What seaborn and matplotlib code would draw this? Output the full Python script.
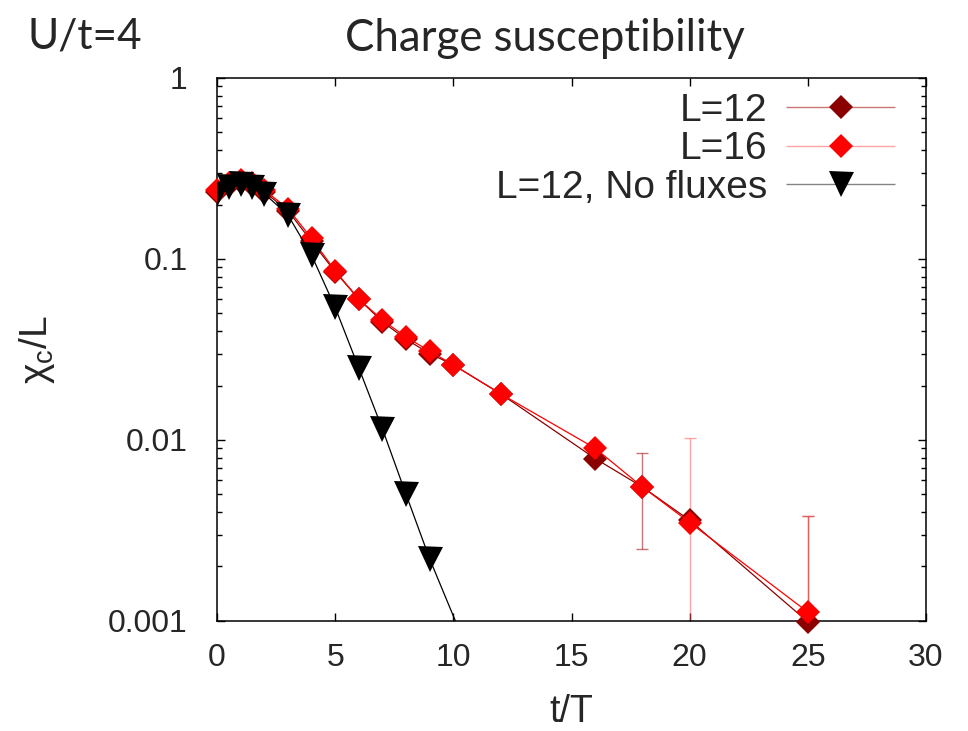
import numpy as np
import pandas as pd
import matplotlib
matplotlib.use("Agg")
import matplotlib.pyplot as plt
import seaborn as sns
from matplotlib.legend_handler import HandlerErrorbar
from matplotlib.ticker import FixedLocator, FixedFormatter, LogLocator, NullFormatter

# ---- data ----
t_l12 = [0, 0.5, 1, 1.5, 2, 3, 4, 5, 6, 7, 8, 9, 10, 12, 16, 18, 20, 25]
chi_l12 = [0.235, 0.255, 0.265, 0.255, 0.235, 0.185, 0.125, 0.085, 0.060, 0.045,
           0.036, 0.030, 0.026, 0.018, 0.0079, 0.0055, 0.0036, 0.00099]
err_l12 = [0, 0, 0, 0, 0, 0, 0, 0, 0, 0, 0, 0, 0, 0, 0, 0.003, 0, 0.0028]

t_l16 = [0, 0.5, 1, 1.5, 2, 3, 4, 5, 6, 7, 8, 9, 10, 12, 16, 18, 20, 25]
chi_l16 = [0.240, 0.262, 0.272, 0.262, 0.240, 0.190, 0.130, 0.086, 0.060, 0.046,
           0.037, 0.031, 0.026, 0.018, 0.0090, 0.0055, 0.0035, 0.00112]
err_l16 = [0, 0, 0, 0, 0, 0, 0, 0, 0, 0, 0, 0, 0, 0, 0, 0, 0.0067, 0.0027]

t_nf = [0, 0.5, 1, 1.5, 2, 3, 4, 5, 6, 7, 8, 9, 12]
chi_nf = [0.228, 0.250, 0.258, 0.250, 0.230, 0.175, 0.105, 0.054, 0.025, 0.0115,
          0.0050, 0.0022, 0.00025]

labels = ["L=12", "L=16", "L=12, No fluxes"]
xticks = [0, 5, 10, 15, 20, 25, 30]
yticks = [0.001, 0.01, 0.1, 1]
yticklabels = ["0.001", "0.01", "0.1", "1"]

# ---- style ----
sns.set_style("ticks")
plt.rcParams["font.family"] = ["Liberation Sans", "DejaVu Sans"]
plt.rcParams["mathtext.fontset"] = "custom"
plt.rcParams["mathtext.rm"] = "Liberation Sans"
plt.rcParams["mathtext.it"] = "Liberation Sans"

fig = plt.figure(figsize=(9.68, 7.31), dpi=100)
ax = fig.add_axes([0.2242, 0.1505, 0.7324, 0.7428])

c12 = "#8b0000"
c16 = "#ff0000"
cnf = "#000000"
e12 = (0.65, 0.1, 0.1, 0.6)
e16 = (1.0, 0.3, 0.3, 0.5)
enf = (0.2, 0.2, 0.2, 0.6)

df12 = pd.DataFrame({"t": t_l12, "chi": chi_l12})
df16 = pd.DataFrame({"t": t_l16, "chi": chi_l16})
dfnf = pd.DataFrame({"t": t_nf, "chi": chi_nf})

# error bars
ax.errorbar(t_l12, chi_l12, yerr=err_l12, fmt="none", ecolor=e12,
            elinewidth=1.0, capsize=4, capthick=1.0, zorder=2)
ax.errorbar(t_l16, chi_l16, yerr=err_l16, fmt="none", ecolor=e16,
            elinewidth=1.0, capsize=4, capthick=1.0, zorder=2)

ms_d = 12.5
ms_v = 18
sns.lineplot(data=df12, x="t", y="chi", ax=ax, color=c12, lw=0.9, marker="D",
             markersize=ms_d, markeredgewidth=0, zorder=3, estimator=None, sort=False,
             clip_on=False)
sns.lineplot(data=df16, x="t", y="chi", ax=ax, color=c16, lw=0.9, marker="D",
             markersize=ms_d, markeredgewidth=0, zorder=4, estimator=None, sort=False,
             clip_on=False)
sns.lineplot(data=dfnf, x="t", y="chi", ax=ax, color=cnf, lw=0.9, marker="v",
             markersize=ms_v, markeredgewidth=0, zorder=5, estimator=None, sort=False)

ax.set_yscale("log")
ax.set_xlim(0, 30)
ax.set_ylim(0.001, 1)
ax.xaxis.set_major_locator(FixedLocator(xticks))
ax.yaxis.set_major_locator(FixedLocator(yticks))
ax.yaxis.set_major_formatter(FixedFormatter(yticklabels))
ax.yaxis.set_minor_locator(LogLocator(base=10, subs=np.arange(2, 10)))
ax.yaxis.set_minor_formatter(NullFormatter())
ax.tick_params(which="both", direction="in", top=True, right=True, labelsize=23,
               color="black", width=1.0)
ax.tick_params(which="major", length=6)
ax.tick_params(which="minor", length=3.5)
ax.tick_params(axis="y", which="major", pad=21)
ax.tick_params(axis="x", which="major", pad=16)
for s in ax.spines.values():
    s.set_visible(True)
    s.set_linewidth(1.1)
    s.set_color("black")

ax.set_xlabel("t/T", fontsize=27)
ax.xaxis.set_label_coords(0.5, -0.135)
ax.set_ylabel(r"$\mathregular{χ_c}$/L", fontsize=28)
ax.yaxis.set_label_coords(-0.226, 0.5)

fig.text(0.563, 0.930, "Charge susceptibility", fontsize=31.5, ha="center", va="baseline",
         family=["Lato", "DejaVu Sans"])
fig.text(0.028, 0.933, "U/t=4", fontsize=30.5, ha="left", va="baseline",
         family=["Lato", "DejaVu Sans"])

# legend with horizontal error-bar style handles
h12 = ax.errorbar([np.nan], [np.nan], xerr=[1], fmt="D", color=c12, ms=ms_d, mew=0,
                  ecolor=e12, capsize=4, capthick=1.0, elinewidth=1.0)
h16 = ax.errorbar([np.nan], [np.nan], xerr=[1], fmt="D", color=c16, ms=ms_d, mew=0,
                  ecolor=e16, capsize=4, capthick=1.0, elinewidth=1.0)
hnf = ax.errorbar([np.nan], [np.nan], xerr=[1], fmt="v", color=cnf, ms=ms_v, mew=0,
                  ecolor=enf, capsize=4, capthick=1.0, elinewidth=1.0)
leg = ax.legend([h12, h16, hnf], labels, loc="upper right", frameon=False,
                bbox_to_anchor=(0.9676, 0.987),
                markerfirst=False, fontsize=28, handlelength=2.8, handletextpad=0.5,
                labelspacing=0.06, borderaxespad=0.0, borderpad=0.2,
                handler_map={type(h12): HandlerErrorbar(xerr_size=1.4)})

fig.savefig("out.png", dpi=100)
